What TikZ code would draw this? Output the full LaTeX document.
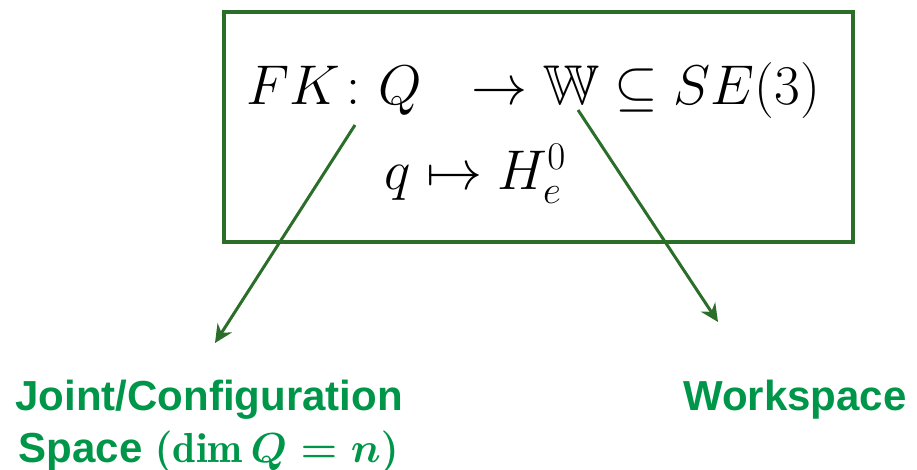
\RequirePackage{fix-cm}
\documentclass[tikz,border=0pt]{standalone}
\usepackage{amsmath,amssymb}
\usepackage{fontspec}
\setsansfont{Liberation Sans}
\usetikzlibrary{arrows.meta,positioning}
\definecolor{bGreen}{HTML}{2A6E2A}
\definecolor{lGreen}{HTML}{00964A}

\begin{document}
\begin{tikzpicture}[x=1pt,y=-1pt,>=Stealth,
    fkbox/.style={draw=bGreen, line width=3.5pt, minimum width=629pt, minimum height=230pt, inner sep=0pt},
    eqn/.style={font=\fontsize{56}{68}\selectfont, anchor=base, inner sep=0pt},
    lbl/.style={text=lGreen, font=\fontsize{42}{52}\selectfont\sffamily\bfseries, align=center, inner sep=0pt},
    link/.style={bGreen, line width=3pt, -{Stealth[length=18pt,width=17pt]}}]
  \useasboundingbox (0,0) rectangle (917,470);
  \node[fkbox] (box) at (538.5,127) {};
  \node[eqn] (map) at (533,105) {$FK\colon Q\ \ \to \mathbb{W} \subseteq SE(3)$};
  \node[eqn] (elem) at (475,190) {$q \mapsto H_e^0$};
  \node[lbl, anchor=north] (joint) at (209,380) {Joint/Configuration\\Space {\boldmath$(\dim Q = n)$}};
  \node[lbl, anchor=base] (work) at (795,410) {Workspace};
  \coordinate (qtail) at (355,125);
  \coordinate (qtip) at (215,343);
  \coordinate (wtail) at (578,110);
  \coordinate (wtip) at (718,322);
  \draw[link] (qtail) -- (qtip);
  \draw[link] (wtail) -- (wtip);
\end{tikzpicture}
\end{document}
